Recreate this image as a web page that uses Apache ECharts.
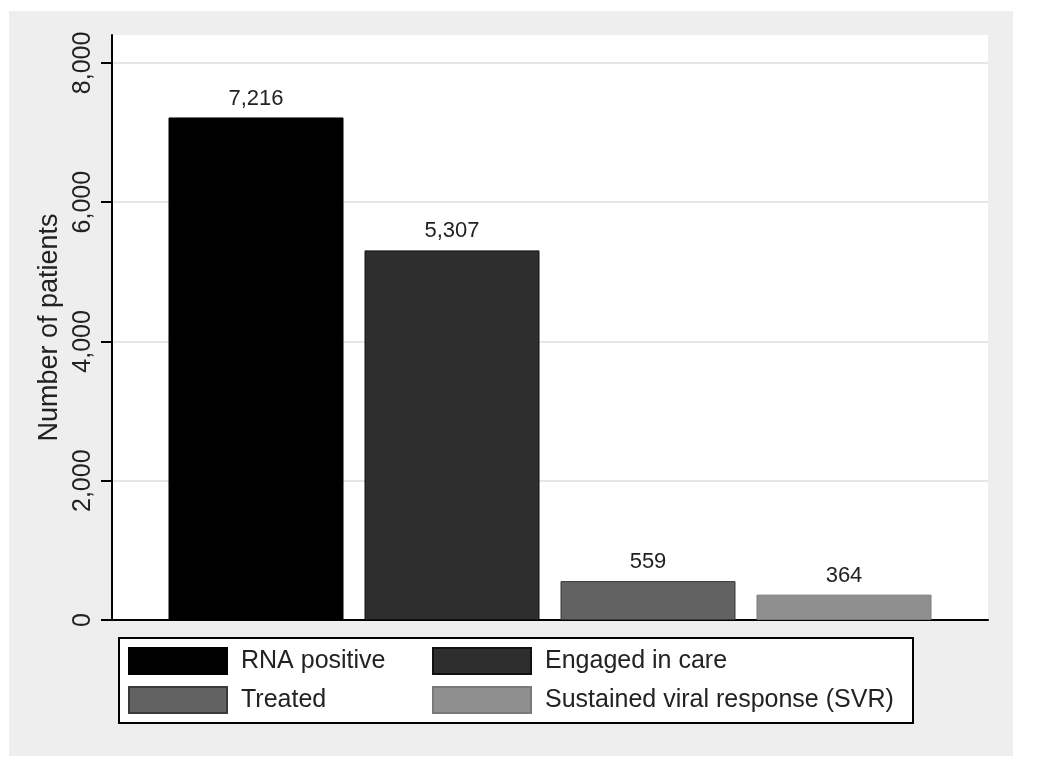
<!DOCTYPE html>
<html>
<head>
<meta charset="utf-8">
<script src="https://cdn.jsdelivr.net/npm/echarts@6/dist/echarts.min.js"></script>
<style>
    html, body { margin: 0; padding: 0; background: #fff; }
    #chart { position: absolute; left: 9px; top: 11px; width: 1004px; height: 745px; }
</style>
</head>
<body>
<div id="chart"></div>
<script>
// 数据
const categories = ['RNA positive', 'Engaged in care', 'Treated', 'Sustained viral response (SVR)'];
const patients = [7216, 5307, 559, 364];
const yTicks = [0, 2000, 4000, 6000, 8000];
const yMax = 8400;

const barColors = ['#000000', '#2e2e2e', '#626262', '#8f8f8f'];
const barBorders = ['#000000', '#111111', '#3a3a3a', '#7a7a7a'];
const FONT = 'Liberation Sans, Arial, sans-serif';

function fmt(v) {
    return String(v).replace(/\B(?=(\d{3})+(?!\d))/g, ',');
}

const series = categories.map(function(name, i) {
    return {
        name: name,
        type: 'bar',
        barWidth: 175,
        barGap: '12%',
        data: [patients[i]],
        itemStyle: { color: barColors[i], borderColor: barBorders[i], borderWidth: 1 },
        label: {
            show: true,
            position: 'top',
            distance: 8,
            color: '#222',
            fontFamily: FONT,
            fontSize: 22,
            formatter: function(p) { return fmt(p.value); }
        }
    };
});

const legendText = { color: '#222', fontFamily: FONT, fontSize: 25, padding: [0, 0, 0, 9] };

function legendCol(left, names) {
    return {
        orient: 'vertical',
        left: left,
        top: 636,
        padding: 0,
        itemWidth: 98,
        itemHeight: 26,
        itemGap: 11,
        icon: 'rect',
        textStyle: legendText,
        data: names,
        selectedMode: false
    };
}

const option = {
    backgroundColor: '#eeeeee',
    animation: false,
    grid: {
        left: 103, top: 24, width: 876, height: 585,
        show: true, backgroundColor: '#ffffff', borderWidth: 0
    },
    xAxis: {
        type: 'category',
        data: [''],
        axisLine: { lineStyle: { color: '#000', width: 2 } },
        axisTick: { show: false },
        axisLabel: { show: false }
    },
    yAxis: {
        type: 'value',
        min: 0,
        max: yMax,
        interval: 2000,
        name: 'Number of patients',
        nameLocation: 'middle',
        nameRotate: 90,
        nameGap: 49,
        nameTextStyle: { color: '#222', fontFamily: FONT, fontSize: 27 },
        axisLine: { show: true, lineStyle: { color: '#000', width: 2 } },
        axisTick: { show: true, length: 11, lineStyle: { color: '#000', width: 2 }, customValues: yTicks },
        axisLabel: {
            rotate: 90,
            margin: 16,
            color: '#222',
            fontFamily: FONT,
            fontSize: 25,
            customValues: yTicks,
            formatter: function(v) { return fmt(v); }
        },
        splitLine: { lineStyle: { color: '#e6e6e6', width: 2 } }
    },
    legend: [
        legendCol(119, [categories[0], categories[2]]),
        legendCol(423, [categories[1], categories[3]])
    ],
    graphic: [{
        type: 'rect',
        left: 109,
        top: 626,
        z: -1,
        shape: { width: 794, height: 85 },
        style: { fill: '#ffffff', stroke: '#000', lineWidth: 2 }
    }],
    series: series
};

let myChart = echarts.init(document.getElementById('chart'));
myChart.setOption(option);
</script>
</body>
</html>
